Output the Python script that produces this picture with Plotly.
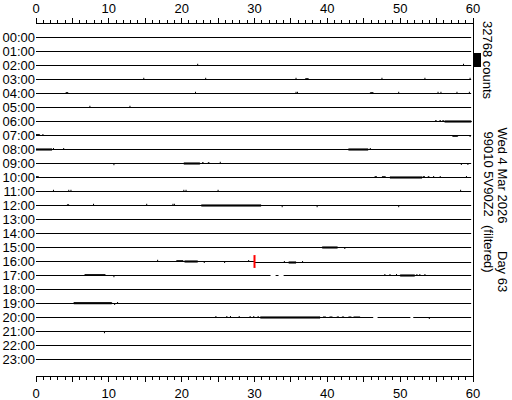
import plotly.graph_objects as go

# ---------------- data ----------------
hours = ["00:00", "01:00", "02:00", "03:00", "04:00", "05:00", "06:00", "07:00",
         "08:00", "09:00", "10:00", "11:00", "12:00", "13:00", "14:00", "15:00",
         "16:00", "17:00", "18:00", "19:00", "20:00", "21:00", "22:00", "23:00"]
minute_ticks = [0, 5, 10, 15, 20, 25, 30, 35, 40, 45, 50, 55, 60]
minute_labels = ["0", "", "10", "", "20", "", "30", "", "40", "", "50", "", "60"]

COUNTS_PER_ROW = 32768          # one row spacing == scale bar
trace_start_min = 0.0
trace_end_min = 59.75

# single-sample glitches: hour row, minute, deflection (counts, + = up)
spike_hour = [2, 2,
              3, 3, 3, 3, 3, 3,
              4, 4, 4, 4, 4, 4, 4, 4,
              5, 5,
              7, 7,
              8, 8, 8,
              9, 9, 9, 9,
              10, 10, 10,
              11, 11, 11, 11, 11, 11, 11,
              12, 12, 12, 12, 12, 12, 12,
              15,
              16, 16, 16, 16, 16, 16,
              17, 17, 17, 17, 17, 17, 17,
              19, 19,
              20, 20, 20, 20, 20, 20, 20, 20,
              21]
spike_min = [22.2, 58.7,
             14.8, 23.3, 35.7, 47.5, 53.4, 59.6,
             21.9, 35.7, 35.9, 49.8, 55.2, 55.6, 57.8, 59.5,
             7.4, 12.9,
             0.95, 59.6,
             2.4, 3.8, 45.9,
             10.7, 25.3, 58.4, 59.3,
             54.6, 55.5, 59.1,
             2.4, 4.5, 4.8, 20.3, 20.6, 25.0, 58.3,
             7.9, 15.2, 18.8, 19.0, 33.8, 38.6, 49.8,
             42.4,
             16.7, 23.1, 25.9, 29.2, 34.1, 36.6,
             10.7, 47.9, 48.6, 49.5, 52.3, 52.7, 53.4,
             10.8, 11.2,
             24.7, 26.2, 26.7, 27.9, 29.4, 29.9, 30.5, 54.0,
             9.4]
spike_counts = [4000, 4000,
                4000, 4000, 4000, 4000, 4000, 4000,
                4000, 4000, 4000, 4000, 4000, 4000, 4000, 4000,
                4000, 4000,
                3500, -3500,
                3500, 3500, 3500,
                -4000, 4000, -3500, -3500,
                3500, 3500, 3500,
                4000, 4000, 4000, 4000, 4000, 4000, 4000,
                4000, 4000, 4000, 4000, -4000, -4000, -4000,
                -3500,
                4000, -3500, -3500, 3500, 3500, 3500,
                -4000, 3500, 3500, 3500, 3500, 3500, 3500,
                -3500, 3500,
                3500, 3500, 3500, 3500, 3500, 3500, 3500, -3500,
                -4000]

# bursts of activity (thick trace): hour row, start/end minute, low/high envelope (counts)
burst_hour = [3, 4, 4,
              6, 6, 6, 6,
              7, 7,
              8, 8,
              9, 9, 9,
              10, 10, 10, 10, 10, 10,
              12, 12,
              15,
              16, 16, 16,
              17, 17,
              19,
              20, 20, 20, 20, 20, 20, 20]
burst_start = [37.0, 4.1, 45.9,
               54.8, 55.4, 55.8, 56.1,
               0.0, 57.2,
               0.0, 42.9,
               20.3, 22.8, 23.6,
               0.0, 46.5, 47.5, 48.6, 53.1, 53.8,
               4.3, 22.7,
               39.3,
               19.3, 20.4, 34.7,
               6.7, 50.0,
               5.2,
               30.8, 39.4, 40.3, 41.3, 42.0, 42.9, 43.6]
burst_end = [37.4, 4.4, 46.3,
             55.0, 55.6, 56.0, 59.75,
             0.5, 57.9,
             2.2, 45.6,
             22.5, 23.0, 23.8,
             0.35, 46.8, 48.0, 53.0, 53.4, 54.0,
             4.5, 30.9,
             41.4,
             20.2, 22.2, 35.7,
             9.5, 52.0,
             10.4,
             39.0, 39.8, 40.7, 41.6, 42.3, 43.3, 44.5]
burst_lo = [0, 0, 0,
            0, 0, 0, -1300,
            0, -1800,
            -1300, -1300,
            -1300, 0, 0,
            0, 0, 0, -1300, 0, 0,
            0, -1300,
            -1300,
            0, -1300, -1300,
            0, -1300,
            -600,
            -1300, -700, -700, -700, -700, -700, -700]
burst_hi = [1800, 1800, 1800,
            1300, 1300, 1300, 1300,
            2000, 0,
            1300, 1300,
            1300, 1300, 1300,
            1800, 1300, 1300, 1300, 1300, 1300,
            1800, 1300,
            1300,
            1800, 1300, 1300,
            2000, 1300,
            2000,
            1300, 700, 700, 700, 700, 700, 700]

# data gaps: hour row, start/end minute
gap_hour = [17, 17, 20, 20]
gap_start = [32.2, 33.3, 46.3, 51.4]
gap_end = [32.9, 34.0, 46.9, 51.8]

# current-time marker and baseline step in that row
marker_hour = 16
marker_min = 30.0
marker_counts = 15000
shift_hour = 16
shift_min = 30.0
shift_counts = -2340

scale_bar_counts = 32768


# ---------------- build ----------------
def base(h, m):
    y = -h
    if h == shift_hour and m >= shift_min:
        y += shift_counts / COUNTS_PER_ROW
    return y


bx, by = [], []
for h in range(len(hours)):
    cuts = sorted((s, e) for gh, s, e in zip(gap_hour, gap_start, gap_end) if gh == h)
    segs = []
    cur = trace_start_min
    for s, e in cuts:
        segs.append((cur, s))
        cur = e
    segs.append((cur, trace_end_min))
    for s, e in segs:
        pieces = [(s, e)]
        if h == shift_hour and s < shift_min < e:
            pieces = [(s, shift_min), (shift_min, e)]
        for a, b in pieces:
            yb = base(h, a)
            bx += [a, b, None]
            by += [yb, yb, None]

sx, sy = [], []
for h, m, c in zip(spike_hour, spike_min, spike_counts):
    y0 = base(h, m)
    sx += [m, m, None]
    sy += [y0, y0 + c / COUNTS_PER_ROW, None]

fx, fy = [], []
for h, s, e, lo, hi in zip(burst_hour, burst_start, burst_end, burst_lo, burst_hi):
    y0 = base(h, s)
    fx += [s, e, e, s, s, None]
    fy += [y0 + hi / COUNTS_PER_ROW, y0 + hi / COUNTS_PER_ROW,
           y0 + lo / COUNTS_PER_ROW, y0 + lo / COUNTS_PER_ROW,
           y0 + hi / COUNTS_PER_ROW, None]

fig = go.Figure()
fig.add_trace(go.Scatter(x=bx, y=by, mode="lines", line=dict(color="black", width=1),
                         hoverinfo="skip", showlegend=False, connectgaps=False))
fig.add_trace(go.Scatter(x=fx, y=fy, mode="lines", fill="toself", fillcolor="black",
                         line=dict(color="black", width=1),
                         hoverinfo="skip", showlegend=False))
fig.add_trace(go.Scatter(x=sx, y=sy, mode="lines", line=dict(color="black", width=1),
                         hoverinfo="skip", showlegend=False))
my = -marker_hour
fig.add_trace(go.Scatter(x=[marker_min, marker_min],
                         y=[my - marker_counts / COUNTS_PER_ROW, my + marker_counts / COUNTS_PER_ROW],
                         mode="lines", line=dict(color="#ff0000", width=2),
                         hoverinfo="skip", showlegend=False))
# invisible trace for the top axis
fig.add_trace(go.Scatter(x=[0, 60], y=[0, 0], xaxis="x2", yaxis="y2", mode="lines",
                         line=dict(width=0), opacity=0, hoverinfo="skip", showlegend=False))

FONT = "Liberation Sans, Arial, sans-serif"
PLOT_L, PLOT_R, PLOT_T, PLOT_B = 36, 473, 24, 376
FIG_W, FIG_H = 512, 400
rows_visible = (PLOT_B - PLOT_T) / 14.0
y_top = 13.5 / 14.0
y_range = [y_top - rows_visible, y_top]

xcommon = dict(range=[0, 60], showgrid=False, zeroline=False, showline=True,
               linecolor="black", linewidth=1, ticks="outside", ticklen=5,
               tickwidth=1, tickcolor="black", tickmode="array",
               tickvals=minute_ticks, ticktext=minute_labels, automargin=False,
               tickfont=dict(family=FONT, size=13, color="black"),
               minor=dict(dtick=1, tick0=0, ticks="outside", ticklen=3,
                          tickcolor="black", tickwidth=1, showgrid=False))

fig.update_layout(
    width=FIG_W, height=FIG_H,
    margin=dict(l=PLOT_L, r=FIG_W - PLOT_R, t=PLOT_T, b=FIG_H - PLOT_B,
                pad=0, autoexpand=False),
    paper_bgcolor="white", plot_bgcolor="white",
    showlegend=False,
    xaxis=dict(side="bottom", anchor="y", **xcommon),
    xaxis2=dict(side="top", anchor="y", overlaying="x", matches="x", **xcommon),
    yaxis=dict(range=y_range, showgrid=False, zeroline=False, showline=False,
               ticks="", tickmode="array", automargin=False,
               tickvals=[-i for i in range(len(hours))], ticktext=hours,
               tickfont=dict(family=FONT, size=13, color="black")),
    yaxis2=dict(range=y_range, overlaying="y", side="right", anchor="x",
                showgrid=False, zeroline=False, showline=True, linecolor="black",
                linewidth=1, showticklabels=False, ticks="", automargin=False),
)

# scale bar: 32768 counts tall, just right of the frame
bar_bottom = -2.107
fig.add_shape(type="rect", xref="paper", yref="y",
              x0=1.0, x1=(481 - PLOT_L) / (PLOT_R - PLOT_L),
              y0=bar_bottom, y1=bar_bottom + scale_bar_counts / COUNTS_PER_ROW,
              fillcolor="black", line=dict(width=0))

W = PLOT_R - PLOT_L
H = PLOT_B - PLOT_T


def px(x):
    return (x - PLOT_L) / W


def py(y):
    return (PLOT_B - y) / H


side_texts = [
    ("32768 counts", 487.5, 20),
    ("99010 5V90Z2", 488, 130),
    ("(filtered)", 488, 224),
    ("Wed 4 Mar 2026", 502.5, 126),
    ("Day 63", 502.5, 250),
]
for txt, xx, yy in side_texts:
    fig.add_annotation(text=txt, xref="paper", yref="paper", x=px(xx), y=py(yy),
                       xanchor="center", yanchor="top", textangle=90, showarrow=False,
                       font=dict(family=FONT, size=13, color="black"), borderpad=0)

# remove the browser's default 8 px page margin so the figure sits at the window corner
fig.write_html("out.html", config={"displayModeBar": False, "staticPlot": True},
               post_script="document.body.style.margin='0px';")
